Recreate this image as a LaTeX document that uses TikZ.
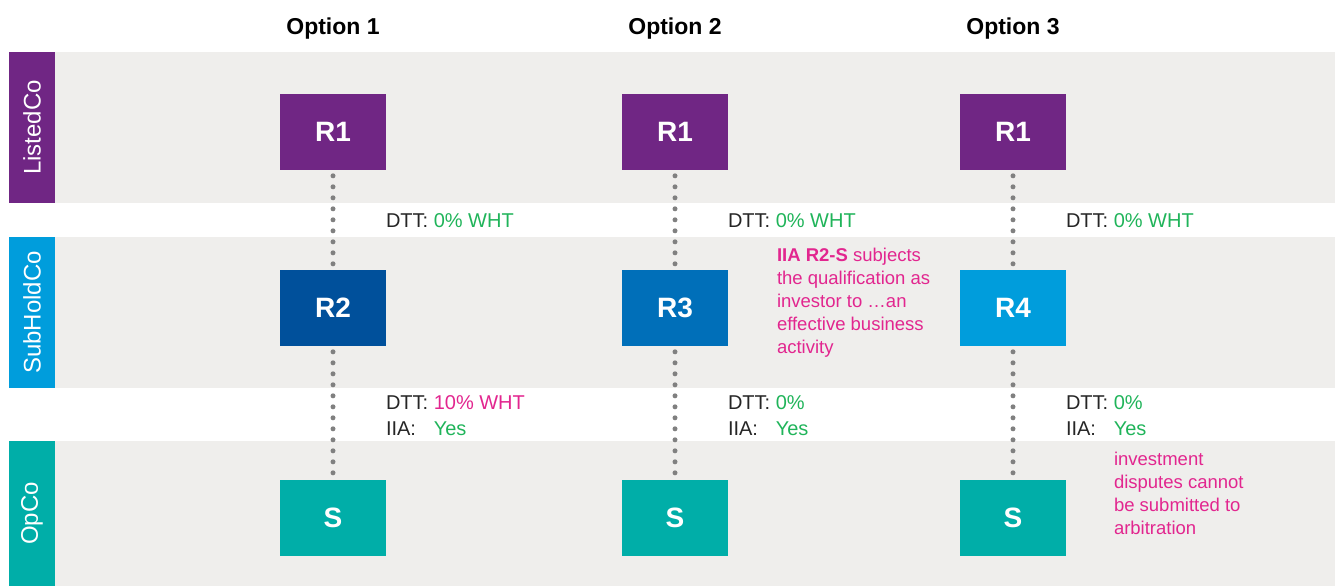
\documentclass[tikz,border=0pt]{standalone}
\usepackage{fontspec}
\setmainfont{Liberation Sans}
\pgfdeclarelayer{bg}
\pgfsetlayers{bg,main}
\definecolor{kpurple}{RGB}{112,38,132}
\definecolor{kdarkblue}{RGB}{0,80,155}
\definecolor{kmidblue}{RGB}{0,111,185}
\definecolor{klightblue}{RGB}{0,157,220}
\definecolor{kteal}{RGB}{0,174,168}
\definecolor{kgrey}{RGB}{239,238,236}
\definecolor{kpink}{RGB}{226,38,143}
\definecolor{kgreen}{RGB}{32,180,90}
\definecolor{kdots}{RGB}{128,128,128}
\tikzset{
    every node/.style={inner sep=0mm, outer sep=0mm}
}
\tikzset{
    entity/.style={rectangle, minimum width=53pt, minimum height=38pt, text=white,
        font=\bfseries\fontsize{14}{14}\selectfont},
    layer/.style={rectangle, rotate=90, minimum height=23pt, text=white,
        font=\fontsize{12}{12}\selectfont},
    head/.style={anchor=base, font=\bfseries\fontsize{11.5}{11.5}\selectfont},
    tax/.style={anchor=base west, text=black!85, font=\fontsize{10}{10}\selectfont},
    remark/.style={anchor=north west, align=left, text=kpink,
        font=\fontsize{9.25}{11.5}\selectfont},
    link/.style={draw=kdots, line width=2.5pt, line cap=round,
        dash pattern=on 0pt off 5.5pt, shorten <=2.9pt, shorten >=2.9pt}
}

\begin{document}
\begin{tikzpicture}[x=0.5pt, y=-0.5pt]
    \useasboundingbox (0,0) rectangle (1335,586);

    \begin{pgfonlayer}{bg}
        \fill[kgrey] (55,52) rectangle (1335,203);
        \fill[kgrey] (55,237) rectangle (1335,388);
        \fill[kgrey] (55,441) rectangle (1335,586);
    \end{pgfonlayer}

    \node (lc) [layer, fill=kpurple, minimum width=75.5pt] at (32,127.5) {ListedCo};
    \node (sh) [layer, fill=klightblue, minimum width=75.5pt] at (32,312.5) {SubHoldCo};
    \node (oc) [layer, fill=kteal, minimum width=72.5pt] at (32,513.5) {OpCo};

    \node (o1) [head] at (333,34) {Option 1};
    \node (o2) [head] at (675,34) {Option 2};
    \node (o3) [head] at (1013,34) {Option 3};

    \node (r1a) [entity, fill=kpurple] at (333,132) {R1};
    \node (r2a) [entity, fill=kdarkblue] at (333,308) {R2};
    \node (sa) [entity, fill=kteal] at (333,518) {S};

    \node (r1b) [entity, fill=kpurple] at (675,132) {R1};
    \node (r3b) [entity, fill=kmidblue] at (675,308) {R3};
    \node (sb) [entity, fill=kteal] at (675,518) {S};

    \node (r1c) [entity, fill=kpurple] at (1013,132) {R1};
    \node (r4c) [entity, fill=klightblue] at (1013,308) {R4};
    \node (sc) [entity, fill=kteal] at (1013,518) {S};

    \draw[link] (r1a) -- (r2a);
    \draw[link] (r2a) -- (sa);
    \draw[link] (r1b) -- (r3b);
    \draw[link] (r3b) -- (sb);
    \draw[link] (r1c) -- (r4c);
    \draw[link] (r4c) -- (sc);

    \node (t1a) [tax] at (386,227) {DTT: \textcolor{kgreen}{0\% WHT}};
    \node (t1b) [tax] at (728,227) {DTT: \textcolor{kgreen}{0\% WHT}};
    \node (t1c) [tax] at (1066,227) {DTT: \textcolor{kgreen}{0\% WHT}};

    \node (t2a) [tax] at (386,409) {DTT: \textcolor{kpink}{10\% WHT}};
    \node (i2a) [tax] at (386,435) {\rlap{IIA:}\phantom{DTT: }\textcolor{kgreen}{Yes}};
    \node (t2b) [tax] at (728,409) {DTT: \textcolor{kgreen}{0\%}};
    \node (i2b) [tax] at (728,435) {\rlap{IIA:}\phantom{DTT: }\textcolor{kgreen}{Yes}};
    \node (t2c) [tax] at (1066,409) {DTT: \textcolor{kgreen}{0\%}};
    \node (i2c) [tax] at (1066,435) {\rlap{IIA:}\phantom{DTT: }\textcolor{kgreen}{Yes}};

    \node (nb) [remark] at (777,248) {\textbf{IIA R2-S} subjects\\the qualification as\\investor to \dots an\\effective business\\activity};
    \node (nc) [remark] at (1114,452) {investment\\disputes cannot\\be submitted to\\arbitration};
\end{tikzpicture}
\end{document}
